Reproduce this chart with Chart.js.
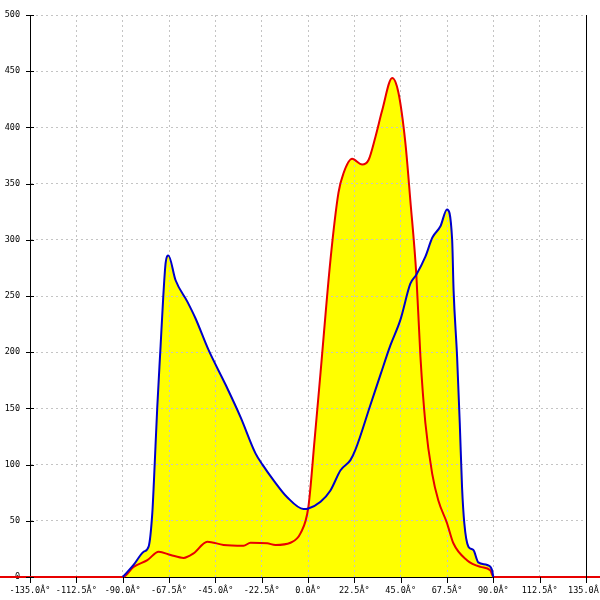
<!DOCTYPE html>
<html>
<head>
<meta charset="utf-8">
<script src="https://cdn.jsdelivr.net/npm/chart.js@4/dist/chart.umd.min.js"></script>
<style>
  html, body { margin: 0; padding: 0; background: #fff; }
</style>
</head>
<body>
<canvas id="polarChart" width="600" height="600"></canvas>
<script>
// angle (deg) / count pairs
const blueAngles = [-90, -84.7, -79.8, -77.4, -75.6, -74.8, -73.2, -71.6, -70.3, -69.1, -67.8, -64.3, -58.6, -54.6, -48.3, -40, -32.7, -25.5, -22.1, -16.7, -10.1, -2.2, 0.2, 6.1, 10.9, 15.8, 20.6, 23, 30.3, 35.2, 40, 44.9, 49.7, 52.6, 57, 60.4, 64.3, 67.5, 70, 70.7, 72.4, 73.7, 74.8, 75.9, 77.9, 80.3, 82.7, 87, 89.4, 90];
const blueValues = [0, 10.7, 22.5, 27, 57, 86, 151, 205, 249, 280, 286, 264, 245, 230, 202, 171, 142, 110, 100, 86, 71, 60.5, 61, 67, 77, 95, 104, 113, 153, 180, 206, 229, 261, 269, 285, 302, 312, 327, 300, 255, 196, 137, 80, 48, 27, 24, 13, 10.7, 6, 0];

const redAngles = [-180, -90, -84.7, -78, -72.5, -66.7, -60.4, -55.6, -48.9, -41, -31.3, -27.9, -19.8, -15.8, -8.5, -3.6, 0.2, 3.2, 6.1, 10.9, 14.8, 17.2, 21.4, 26.3, 29.4, 32.8, 36, 40.9, 43.9, 47.3, 49.7, 52.6, 54.6, 57, 60.3, 63.3, 67.5, 70.6, 77.2, 83.7, 88.5, 90, 180];
const redValues = [0, 0, 9, 15, 22.5, 19.6, 17, 21, 31.4, 28.5, 27.8, 30.5, 30, 28.5, 30.5, 39, 62.5, 122, 182, 282, 342, 359, 372, 367, 371, 392, 415, 444, 431, 386, 335, 269, 196, 137, 92, 68, 48, 30, 15, 9, 6, 0, 0];

const xTicks = [-135, -112.5, -90, -67.5, -45, -22.5, 0, 22.5, 45, 67.5, 90, 112.5, 135];
const yTicks = [0, 50, 100, 150, 200, 250, 300, 350, 400, 450, 500];

Chart.defaults.font.family = '"DejaVu Sans Mono", monospace';
Chart.defaults.font.size = 8.5;
Chart.defaults.color = '#000';

function toPoints(xs, ys) {
    return xs.map((x, i) => ({ x: x, y: ys[i] }));
}

// tick marks crossing the y axis, below the x axis, plus the black right edge
const frameMarks = {
    id: 'frameMarks',
    afterDraw(chart) {
        const ctx = chart.ctx;
        const area = chart.chartArea;
        const xs = chart.scales.x;
        const ys = chart.scales.y;
        ctx.save();
        ctx.strokeStyle = '#000';
        ctx.lineWidth = 1;
        ctx.beginPath();
        yTicks.forEach(v => {
            const py = Math.round(ys.getPixelForValue(v)) + 0.5;
            ctx.moveTo(area.left - 4, py);
            ctx.lineTo(area.left + 4, py);
        });
        xTicks.forEach(v => {
            const px = Math.round(xs.getPixelForValue(v)) + 0.5;
            ctx.moveTo(px, area.bottom);
            ctx.lineTo(px, area.bottom + 6);
        });
        const rx = Math.round(area.right) + 0.5;
        ctx.moveTo(rx, area.top);
        ctx.lineTo(rx, area.bottom);
        ctx.stroke();
        ctx.restore();
    }
};

const ctx = document.getElementById('polarChart').getContext('2d');
const polarChart = new Chart(ctx, {
    type: 'line',
    data: {
        datasets: [
            {
                label: 'blue',
                data: toPoints(blueAngles, blueValues),
                borderColor: '#0000cc',
                backgroundColor: '#ffff00',
                borderWidth: 2,
                pointRadius: 0,
                fill: 'origin',
                cubicInterpolationMode: 'monotone'
            },
            {
                label: 'red',
                data: toPoints(redAngles, redValues),
                borderColor: '#e80000',
                backgroundColor: '#ffff00',
                borderWidth: 2,
                pointRadius: 0,
                fill: 'origin',
                clip: false,
                cubicInterpolationMode: 'monotone'
            }
        ]
    },
    options: {
        responsive: false,
        animation: false,
        layout: {
            padding: { top: 15, right: 14, left: 0, bottom: 0 }
        },
        plugins: {
            legend: { display: false },
            tooltip: { enabled: false },
            filler: { drawTime: 'beforeDraw' }
        },
        scales: {
            x: {
                type: 'linear',
                min: -135,
                max: 135,
                afterBuildTicks: axis => { axis.ticks = xTicks.map(v => ({ value: v })); },
                afterFit: scale => { scale.height = 23; scale.paddingLeft = 0; scale.paddingRight = 0; },
                ticks: {
                    padding: 9,
                    maxRotation: 0,
                    autoSkip: false,
                    callback: value => value.toFixed(1) + 'Â°'
                },
                grid: {
                    color: '#c4c4c4',
                    drawTicks: false
                },
                border: {
                    color: '#000',
                    width: 1,
                    dash: [2, 3]
                }
            },
            y: {
                min: 0,
                max: 500,
                afterBuildTicks: axis => { axis.ticks = yTicks.map(v => ({ value: v })); },
                afterFit: scale => { scale.width = 30; scale.paddingTop = 0; scale.paddingBottom = 0; },
                ticks: {
                    padding: 10
                },
                grid: {
                    color: '#c4c4c4',
                    drawTicks: false
                },
                border: {
                    color: '#000',
                    width: 1,
                    dash: [2, 3]
                }
            }
        }
    },
    plugins: [frameMarks]
});
</script>
</body>
</html>
